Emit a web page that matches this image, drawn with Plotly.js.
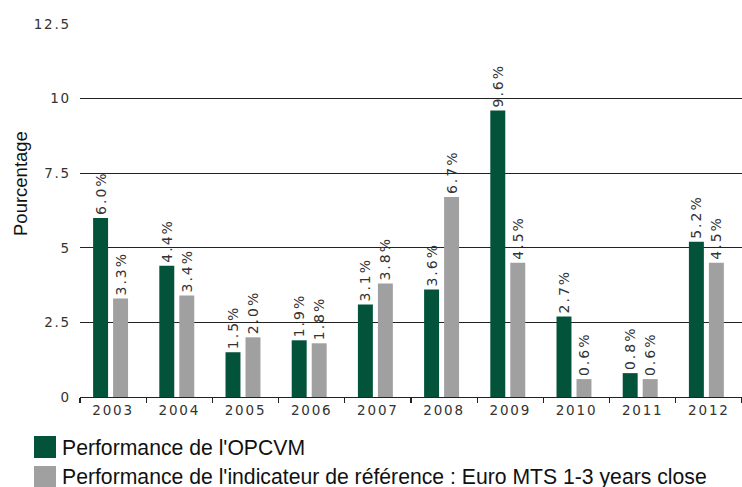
<!DOCTYPE html>
<html>
<head>
<meta charset="utf-8">
<script src="https://cdn.plot.ly/plotly-3.0.1.min.js"></script>
<style>
  html, body { margin: 0; padding: 0; background: #fff; }
  #chart { width: 742px; height: 487px; }
  .bartext { letter-spacing: 2px; }
  .xtick text, .ytick text { letter-spacing: 1.8px; }
</style>
</head>
<body>
<div id="chart"></div>
<script>
const years = ['2003','2004','2005','2006','2007','2008','2009','2010','2011','2012'];
const opcvm = [6.0, 4.4, 1.5, 1.9, 3.1, 3.6, 9.6, 2.7, 0.8, 5.2];
const reference = [3.3, 3.4, 2.0, 1.8, 3.8, 6.7, 4.5, 0.6, 0.6, 4.5];
const yTicks = [0, 2.5, 5, 7.5, 10, 12.5];
const yTickLabels = ['0', '2.5', '5', '7.5', '10', '12.5'];
const seriesNames = ["Performance de l'OPCVM", "Performance de l'indicateur de référence : Euro MTS 1-3 years close"];
const seriesColors = ['#02533A', '#A0A0A0'];

const barFont = { family: 'DejaVu Sans, Verdana, sans-serif', size: 14, color: '#333' };
const tickFont = { family: 'DejaVu Sans, Verdana, sans-serif', size: 13.5, color: '#333' };
const sans = "'Liberation Sans', Arial, sans-serif";
const textFont = { family: sans, size: 21.2, color: '#111' };

// plot area in pixels: left 80, top 24, width 662, height 373
const PL = 80, PT = 24, PW = 662, PH = 373;
const px = v => (v - PL) / PW;
const py = v => (PT + PH - v) / PH;

const traces = [
  {
    type: 'bar', x: years, y: opcvm, name: seriesNames[0],
    marker: { color: seriesColors[0], line: { width: 0 } },
    width: 0.226, offset: -0.302,
    texttemplate: '%{y:.1f}%', textposition: 'outside', textangle: -90,
    constraintext: 'none', cliponaxis: false, textfont: barFont,
    hoverinfo: 'skip', showlegend: false
  },
  {
    type: 'bar', x: years, y: reference, name: seriesNames[1],
    marker: { color: seriesColors[1], line: { width: 0 } },
    width: 0.226, offset: 0.0,
    texttemplate: '%{y:.1f}%', textposition: 'outside', textangle: -90,
    constraintext: 'none', cliponaxis: false, textfont: barFont,
    hoverinfo: 'skip', showlegend: false
  }
];

const legendRows = [447, 477];
const shapes = legendRows.map((cy, i) => ({
  type: 'rect', xref: 'paper', yref: 'paper',
  x0: px(34), x1: px(56), y0: py(cy + 11), y1: py(cy - 11),
  fillcolor: seriesColors[i], line: { width: 0 }
}));
const legendAnnots = legendRows.map((cy, i) => ({
  text: seriesNames[i], xref: 'paper', yref: 'paper',
  x: px(60), y: py(cy), xanchor: 'left', yanchor: 'middle',
  showarrow: false, font: textFont
}));

const layout = {
  width: 742, height: 487,
  margin: { l: PL, r: 742 - PL - PW, t: PT, b: 487 - PT - PH, autoexpand: false },
  paper_bgcolor: '#fff', plot_bgcolor: '#fff',
  showlegend: false,
  barmode: 'group',
  xaxis: {
    type: 'category', tickangle: 0,
    tickson: 'boundaries', ticks: 'outside', ticklen: 5, tickwidth: 1.3, tickcolor: '#222',
    showgrid: false, showline: true, linecolor: '#222', linewidth: 1.3,
    tickfont: tickFont, zeroline: false, fixedrange: true
  },
  yaxis: {
    range: [0, 12.5], tickvals: yTicks, ticktext: yTickLabels,
    ticks: '', showline: false, showgrid: true, gridcolor: '#222', gridwidth: 1.3,
    zeroline: false, tickfont: tickFont, ticklabelstandoff: 8, fixedrange: true
  },
  shapes: shapes,
  annotations: [{
    text: 'Pourcentage', textangle: -90,
    xref: 'paper', yref: 'paper',
    x: px(21), y: py(184),
    xanchor: 'center', yanchor: 'middle', showarrow: false,
    font: { family: sans, size: 18.5, color: '#111' }
  }].concat(legendAnnots)
};

Plotly.newPlot('chart', traces, layout, { displayModeBar: false, staticPlot: true });
</script>
</body>
</html>
